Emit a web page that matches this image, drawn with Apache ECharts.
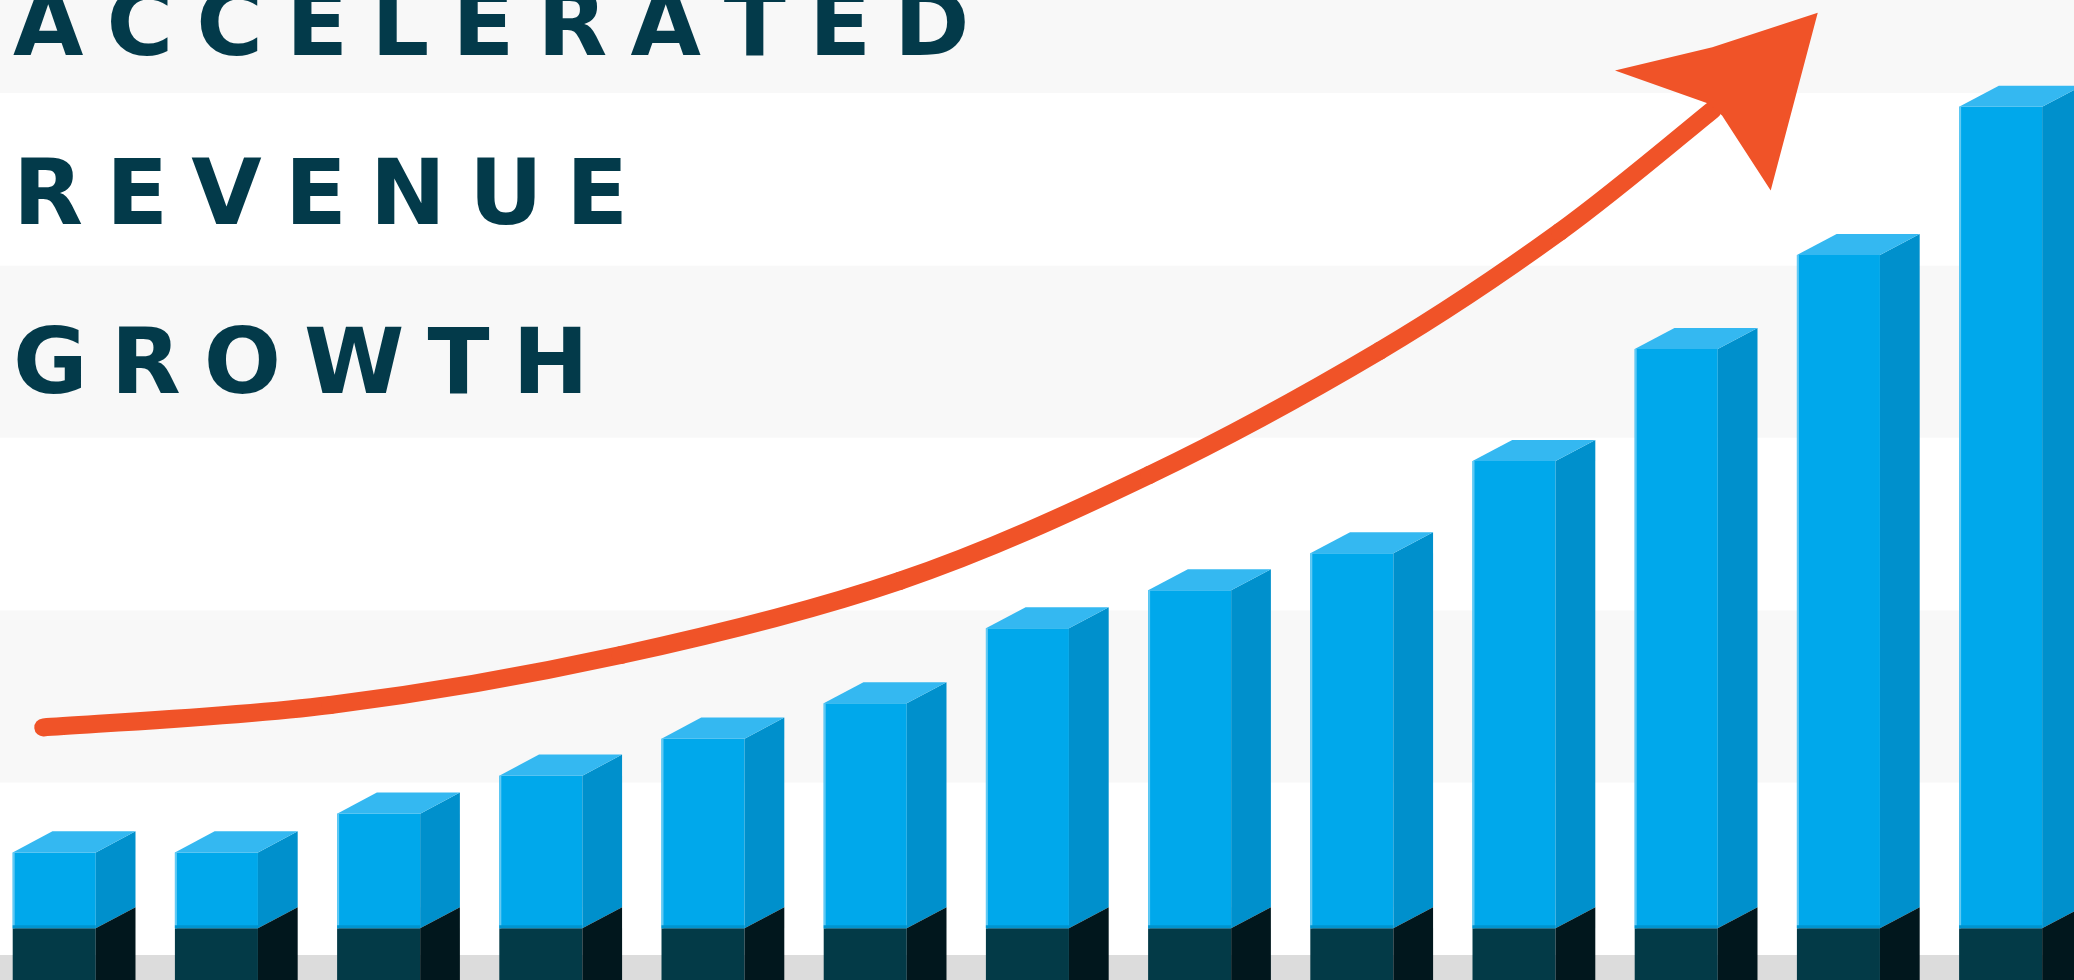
<!DOCTYPE html>
<html>
<head>
<meta charset="utf-8">
<script src="https://cdn.jsdelivr.net/npm/echarts@6/dist/echarts.min.js"></script>
<style>
html,body{margin:0;padding:0;background:#ffffff;overflow:hidden;}
#chart{width:2074px;height:980px;}
</style>
</head>
<body>
<div id="chart"></div>
<script>
// ---- data ----
const categories = ['P1','P2','P3','P4','P5','P6','P7','P8','P9','P10','P11','P12','P13'];
const revenue = [11.9, 11.9, 16.4, 20.8, 25.1, 29.2, 37.9, 42.3, 46.6, 57.3, 70.3, 81.2, 98.4];
const baseLevel = [3.1, 3.1, 3.1, 3.1, 3.1, 3.1, 3.1, 3.1, 3.1, 3.1, 3.1, 3.1, 3.1];
// trend arrow shaft (x in category units, y in value units)
const trendX = [-0.19, 1.58, 3.37, 5.09, 6.63, 8.05, 9.16, 10.10];
const trendY = [26.4, 29.0, 34.8, 43.4, 55.7, 70.1, 83.9, 98.0];
// arrow head outline
const headX = [10.75, 10.10, 9.50, 10.07, 10.16, 10.46];
const headY = [109.3, 105.3, 102.6, 98.8, 97.4, 88.7];
const titleLines = ['ACCELERATED', 'REVENUE', 'GROWTH'];
const Y_MIN = -20, Y_MAX = 120, Y_STEP = 20;

// ---- chart ----
const chart = echarts.init(document.getElementById('chart'), null, {renderer: 'canvas'});
const ORANGE = '#f05328';

function renderBar(params, api) {
  const idx = api.value(0);
  const top = api.coord([idx, api.value(1)]);
  const baseY = api.coord([idx, api.value(2)])[1];
  const botY = api.coord([idx, Y_MIN])[1];
  const band = api.size([1, 0])[0];
  const fw = band * 0.512, dx = band * 0.245, dy = band * 0.13;
  const x0 = top[0] - (fw + dx) / 2, x1 = x0 + fw, x2 = x1 + dx;
  const y0 = top[1];
  return {
    type: 'group',
    children: [
      {type: 'rect', shape: {x: x0, y: y0, width: fw, height: baseY - y0}, style: {fill: '#00a8eb'}},
      {type: 'rect', shape: {x: x0, y: baseY, width: fw, height: botY - baseY}, style: {fill: '#033a47'}},
      {type: 'polygon', shape: {points: [[x1, y0], [x2, y0 - dy], [x2, baseY - dy], [x1, baseY]]}, style: {fill: '#0090cc'}},
      {type: 'polygon', shape: {points: [[x1, baseY], [x2, baseY - dy], [x2, botY - dy], [x1, botY]]}, style: {fill: '#01171d'}},
      {type: 'polygon', shape: {points: [[x0, y0], [x0 + dx, y0 - dy], [x2, y0 - dy], [x1, y0]]}, style: {fill: '#34b8f1'}},
      {type: 'rect', shape: {x: x0, y: y0, width: 2, height: baseY - y0}, style: {fill: '#62caf4'}},
      {type: 'rect', shape: {x: x0, y: baseY - 3, width: fw, height: 3}, style: {fill: '#0093ce'}}
    ]
  };
}

// smooth shaft through the trend points (Catmull-Rom drawn as cubic Beziers)
function renderTrend(params, api) {
  const pts = trendX.map((u, k) => api.coord([u, trendY[k]]));
  const n = pts.length;
  const children = [];
  for (let i = 0; i < n - 1; i++) {
    const p0 = pts[Math.max(i - 1, 0)], p1 = pts[i], p2 = pts[i + 1], p3 = pts[Math.min(i + 2, n - 1)];
    children.push({
      type: 'bezierCurve',
      shape: {
        x1: p1[0], y1: p1[1], x2: p2[0], y2: p2[1],
        cpx1: p1[0] + (p2[0] - p0[0]) / 6, cpy1: p1[1] + (p2[1] - p0[1]) / 6,
        cpx2: p2[0] - (p3[0] - p1[0]) / 6, cpy2: p2[1] - (p3[1] - p1[1]) / 6
      },
      style: {stroke: ORANGE, lineWidth: 18, lineCap: 'round', fill: null}
    });
  }
  return {type: 'group', children: children};
}

function renderHead(params, api) {
  const pts = headX.map((u, k) => api.coord([u, headY[k]]));
  return {type: 'polygon', shape: {points: pts}, style: {fill: ORANGE}};
}

const titleGraphics = titleLines.map((word, k) => ({
  type: 'text',
  x: 13,
  y: 31 + k * 169,
  z: 100,
  style: {
    text: word.split('').map(ch => '{l|' + ch + '}').join(''),
    align: 'left',
    verticalAlign: 'middle',
    fill: '#033a4a',
    fontFamily: 'DejaVu Sans',
    fontWeight: 'bold',
    fontSize: 91,
    rich: {
      l: {fill: '#033a4a', fontFamily: 'DejaVu Sans', fontWeight: 'bold', fontSize: 91, padding: [0, 23, 0, 0]}
    }
  }
}));

chart.setOption({
  animation: false,
  backgroundColor: '#ffffff',
  grid: {left: -7, top: -79.4, width: 2108.6, height: 1206.8, containLabel: false, outerBoundsMode: 'none'},
  xAxis: [
    {type: 'category', data: categories, boundaryGap: true, show: false},
    {type: 'value', min: -0.5, max: 12.5, show: false}
  ],
  yAxis: {
    type: 'value', min: Y_MIN, max: Y_MAX, interval: Y_STEP,
    axisLine: {show: false}, axisTick: {show: false}, axisLabel: {show: false},
    splitLine: {show: false},
    splitArea: {show: true, areaStyle: {color: ['#dcdcdc', '#ffffff', '#f8f8f8', '#ffffff', '#f8f8f8', '#ffffff', '#f8f8f8']}}
  },
  series: [
    {
      type: 'custom', name: 'Revenue', xAxisIndex: 0,
      renderItem: renderBar,
      encode: {x: 0, y: 1},
      data: categories.map((c, i) => [i, revenue[i], baseLevel[i]]),
      z: 2
    },
    {
      type: 'custom', name: 'Trend', xAxisIndex: 1,
      renderItem: renderTrend,
      data: [[trendX[0], trendY[0]]],
      z: 5
    },
    {
      type: 'custom', name: 'Arrow head', xAxisIndex: 1,
      renderItem: renderHead,
      data: [[headX[0], headY[0]]],
      z: 6
    }
  ],
  graphic: titleGraphics
});
</script>
</body>
</html>
